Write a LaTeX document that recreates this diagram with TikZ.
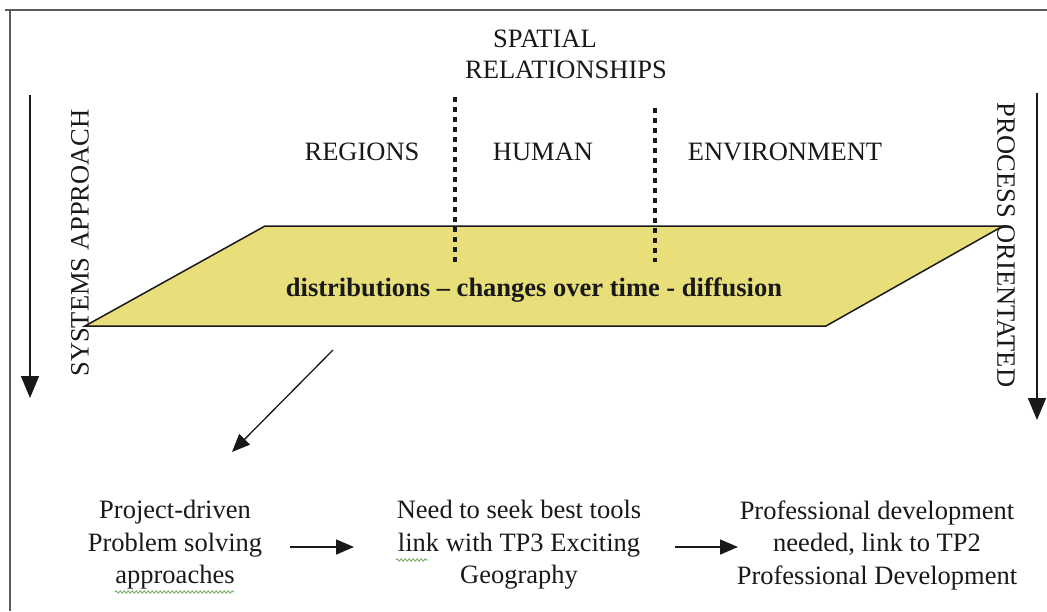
\documentclass[tikz,border=0pt]{standalone}
\usepackage{fontspec}
\setmainfont{Liberation Serif}
\usetikzlibrary{arrows.meta,decorations.pathmorphing}
\definecolor{plane}{RGB}{232,222,122}
\definecolor{ink}{RGB}{25,25,25}
\definecolor{frame}{RGB}{90,90,90}
\definecolor{squig}{RGB}{110,170,90}
\tikzset{
  lbl/.style={inner sep=0pt, text=ink, font=\fontsize{26.5}{32.5}\selectfont},
  blk/.style={lbl, align=center},
  arr/.style={draw=ink, line width=1.6pt, -{Triangle[length=22pt,width=18pt]}},
  sarr/.style={draw=ink, line width=1.6pt, -{Triangle[length=18pt,width=15pt]}},
  divider/.style={draw=ink, line width=4.5pt, dash pattern=on 4.5pt off 5.5pt},
  wavy/.style={draw=squig, line width=0.8pt, decorate, decoration={snake, amplitude=1.2pt, segment length=4pt}}
}
\begin{document}
\begin{tikzpicture}[x=1pt,y=-1pt]
\useasboundingbox (0,0) rectangle (1047,611);
\fill[white] (0,0) rectangle (1047,611);
% frame (top and left edges visible)
\draw[frame, line width=2pt] (5,10) -- (1047,10);
\draw[frame, line width=2pt] (10,10) -- (10,611);

% plane
\coordinate (p1) at (265,226);
\coordinate (p2) at (1003,226);
\coordinate (p3) at (826,326);
\coordinate (p4) at (85,326);
\draw[fill=plane, draw=ink, line width=1.5pt] (p1) -- (p2) -- (p3) -- (p4) -- cycle;
\node[lbl, font=\fontsize{26.5}{32.5}\selectfont\bfseries, anchor=base] (dist) at (534,296) {distributions -- changes over time - diffusion};

% headings
\node[lbl, anchor=base] (spatial) at (545,47) {SPATIAL};
\node[lbl, anchor=base] (rel) at (566,78) {RELATIONSHIPS};
\node[lbl, anchor=base] (regions) at (362,160) {REGIONS};
\node[lbl, anchor=base] (human) at (543,160) {HUMAN};
\node[lbl, anchor=base] (env) at (785,160) {ENVIRONMENT};

% dotted dividers
\coordinate (d1a) at (455,97);
\coordinate (d1b) at (455,262);
\coordinate (d2a) at (655,108);
\coordinate (d2b) at (655,262);
\draw[divider] (d1a) -- (d1b);
\draw[divider] (d2a) -- (d2b);

% side arrows and labels
\coordinate (la) at (30,95);
\coordinate (lb) at (30,398);
\draw[arr] (la) -- (lb);
\node[lbl, rotate=90] (sys) at (80,243) {SYSTEMS APPROACH};
\coordinate (ra) at (1037,93);
\coordinate (rb) at (1037,420);
\draw[arr] (ra) -- (rb);
\node[lbl, rotate=-90] (proc) at (1006,245) {PROCESS ORIENTATED};

% diagonal arrow
\coordinate (da) at (333,350);
\coordinate (db) at (232,452);
\draw[sarr, line width=1.3pt] (da) -- (db);

% bottom blocks
\node[blk] (b1) at (175,545) {Project-driven\\Problem solving\\approaches};
\node[blk] (b2) at (519,545) {Need to seek best tools\\link with TP3 Exciting\\Geography};
\node[blk] (b3) at (877,545) {Professional development\\needed, link to TP2\\Professional Development};
\coordinate (a1s) at (290,547);
\coordinate (a1e) at (354,547);
\coordinate (a2s) at (675,547);
\coordinate (a2e) at (738,547);
\draw[sarr] (a1s) -- (a1e);
\draw[sarr] (a2s) -- (a2e);

% spell-check squiggles
\draw[wavy] (115,592) -- (234,592);
\draw[wavy] (396,560) -- (428,560);
\end{tikzpicture}
\end{document}
